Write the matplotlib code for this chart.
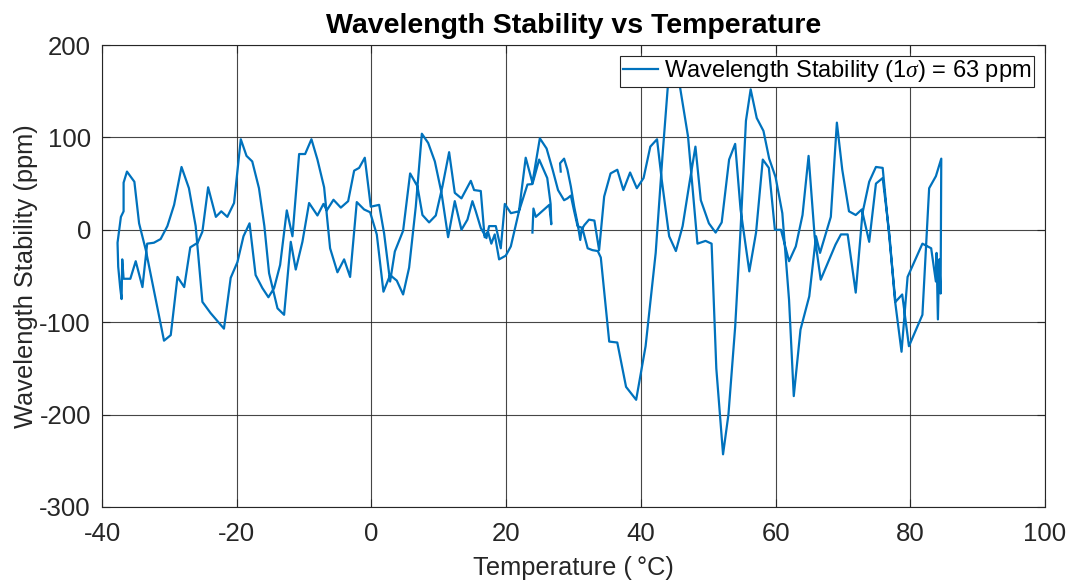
import numpy as np
import matplotlib
matplotlib.use("Agg")
import matplotlib.pyplot as plt

plt.rcParams['font.family'] = ['Liberation Sans', 'DejaVu Sans']
plt.rcParams['mathtext.fontset'] = 'custom'
plt.rcParams['mathtext.rm'] = 'Liberation Sans'
plt.rcParams['mathtext.it'] = 'Liberation Serif:italic'
plt.rcParams['axes.unicode_minus'] = False

# Heating leg (~28 -> 85 degC)
temp_heat = [28.1, 28.0, 28.6, 29.1, 29.6, 30.1, 30.6, 31.0, 31.2, 31.6,
             32.3, 33.1, 33.8, 34.55, 35.5, 36.5, 37.4, 38.4, 39.4, 40.4,
             41.4, 42.4, 43.1, 44.2, 45.2, 46.2, 47.2, 48.1, 48.9, 50.1,
             51.1, 52.0, 53.1, 54.0, 54.8, 56.1, 57.1, 58.1, 59.0, 59.9,
             60.8, 62.0, 63.0, 64.0, 64.9, 65.8, 66.7, 67.8, 68.9, 69.7,
             70.7, 71.9, 72.9, 73.9, 74.9, 75.9, 77.8, 78.8, 79.8, 81.8,
             82.8, 83.8, 84.6]
stab_heat = [63, 72, 77, 65, 47, 25, 7, -11, 0, 5,
             11, 10, -22, 36, 61, 65, 43, 62, 45, 56,
             90, 98, 54, -7, -23, 4, 50, 90, 32, 7,
             -3, 8, 76, 93, 22, -45, -3, 76, 67, 0,
             0, -34, -18, 16, 80, -7, -54, -35, -16, -5,
             -5, -68, 18, 52, 68, 67, -78, -70, -126, -92,
             45, 58, 77]

# Cooling leg (85 -> -37.6 degC)
temp_cool = [84.6, 84.5, 84.3, 84.1, 83.9, 83.8, 83.1, 81.8, 79.6, 78.7,
             77.7, 76.9, 75.9, 74.9, 73.9, 72.8, 71.9, 70.9, 69.9, 69.1,
             68.2, 66.6, 66.0, 65.0, 63.7, 62.7, 62.0, 61.0, 60.0, 59.05,
             58.2, 57.2, 56.3, 55.6, 54.8, 54.0, 53.0, 52.2, 51.2, 50.5,
             49.6, 48.4, 47.0, 45.8, 45.0, 44.0, 43.2, 42.2, 40.7, 39.3,
             37.8, 36.5, 35.3, 34.05, 33.6, 32.8, 32.1, 31.3, 30.6, 30.1,
             29.6, 29.1, 28.6, 27.7, 26.9, 26.0, 25.0, 23.9, 22.9, 21.9,
             20.7, 19.8, 19.2, 18.46, 17.47, 17.07, 16.23, 15.49, 14.99, 14.25,
             13.36, 12.37, 11.38, 10.4, 9.41, 8.42, 7.48, 6.58, 5.59, 4.70,
             3.76, 2.77, 1.78, 0.79, -0.2, -1.09, -2.18, -3.17, -4.06, -5.05,
             -6.14, -7.03, -8.02, -8.91, -9.85, -10.74, -11.73, -12.57, -13.56, -14.45,
             -15.3, -16.2, -17.2, -18.1, -19.0, -19.9, -20.9, -21.9, -23.9, -25.1,
             -26.1, -27.1, -28.2, -29.3, -30.3, -31.3, -32.3, -33.3, -34.0, -35.0,
             -35.8, -36.8, -37.0, -37.1, -37.3, -37.6]
stab_cool = [77, -69, -32, -97, -25, -56, -20, -15, -51, -132,
             -75, -5, 56, 50, -13, 22, 16, 20, 65, 116,
             14, -25, -7, -72, -108, -180, -76, 18, 57, 77,
             107, 121, 152, 118, 0, -105, -200, -243, -150, -15,
             -12, -15, 101, 155, 178, 155, 79, -25, -126, -184,
             -170, -122, -121, -30, -23, -22, -20, 2, 4, 20,
             37, 34, 32, 43, 65, 88, 99, 51, 78, 20,
             18, 28, -20, 4, 4, -9, 2, 20, 31, 11,
             0, 31, -8, 40, 74, 94, 104, 25, -41, -70,
             -55, -49, -67, -5, 19, 22, 30, -51, -32, -46,
             -20, 46, 76, 98, 82, 82, -7, 21, -38, -63,
             -73, -63, -49, 7, -7, -35, -52, -107, -90, -78,
             4, 45, 68, 27, 4, -10, -14, -15, -62, -34,
             -53, -53, -32, -75, -63, -40]

# Return heating leg (-37.7 -> ~24 degC)
temp_ret = [-37.7, -37.2, -36.8, -36.8, -36.3, -35.2, -34.5, -33.5, -30.8, -29.8,
            -28.8, -27.8, -26.9, -25.8, -25.1, -24.25, -23.1, -22.3, -21.4, -20.4,
            -19.4, -18.55, -17.7, -16.7, -15.9, -15.2, -13.95, -12.97, -11.98, -11.24,
            -10.25, -9.26, -8.02, -7.13, -6.63, -5.64, -4.55, -3.46, -2.57, -1.83,
            -0.99, -0.10, 1.14, 1.88, 2.77, 3.47, 4.70, 5.74, 6.83, 7.57,
            8.56, 9.55, 10.54, 11.53, 12.37, 13.36, 14.75, 15.24, 16.23, 16.8,
            17.3, 17.8, 18.3, 18.95, 19.94, 20.69, 21.9, 23.16, 23.9, 24.9,
            26.1, 26.6, 26.7, 26.4, 24.4, 24.05, 23.9]
stab_ret = [-14, 14, 20, 51, 63, 52, 7, -22, -120, -114,
            -51, -62, -19, -14, -2, 46, 14, 20, 14, 29,
            98, 80, 74, 45, 4, -47, -85, -92, -13, -43,
            -13, 29, 15.5, 28, 21, 32.5, 24, 31, 64, 67,
            78, 25, 27, -4, -56, -23.5, -1, 61, 47, 16,
            8, 15.5, 47, 84, 40, 34, 53, 43, 42, -8,
            -2, -15, -5, -32, -28, -18, 20, 49, 49.5, 76,
            56, 28, 6, 27, 14, 23, -3]

x_ticks = [-40, -20, 0, 20, 40, 60, 80, 100]
y_ticks = [-300, -200, -100, 0, 100, 200]

temperature = np.concatenate([temp_heat, temp_cool, temp_ret])
stability = np.concatenate([stab_heat, stab_cool, stab_ret])

fig = plt.figure(figsize=(10.73, 5.80), dpi=100)
ax = fig.add_axes([0.0951, 0.1259, 0.8788, 0.7965])

ax.plot(temperature, stability, color='#0072BD', lw=1.6,
        label=r'Wavelength Stability (1$\sigma$) = 63 ppm', zorder=3)

ax.set_xlim(-40, 100)
ax.set_ylim(-300, 200)
ax.set_xticks(x_ticks)
ax.set_yticks(y_ticks)
ax.grid(True, color='#262626', lw=0.8, alpha=0.85)
ax.set_axisbelow(True)
ax.tick_params(direction='in', length=6, width=0.8, labelsize=18.5,
               top=True, right=True, colors='#262626', labelcolor='#262626')
ax.tick_params(axis='x', pad=11)
ax.tick_params(axis='y', pad=8)
for s in ax.spines.values():
    s.set_color('#262626')
    s.set_linewidth(0.8)

ax.set_xlabel('Temperature (\u2009°C)', fontsize=18.3, color='#262626', labelpad=7)
ax.set_ylabel('Wavelength Stability (ppm)', fontsize=18.3, color='#262626', labelpad=1)
ax.set_title('Wavelength Stability vs Temperature', fontsize=20.5,
             fontweight='bold', color='black', pad=9)

leg = ax.legend(loc='upper right', fontsize=17, handlelength=1.5,
                handletextpad=0.25, borderpad=0.12, borderaxespad=0.45,
                fancybox=False, framealpha=1, edgecolor='#262626')
leg.get_frame().set_linewidth(0.8)

fig.savefig('out.png', dpi=100)
